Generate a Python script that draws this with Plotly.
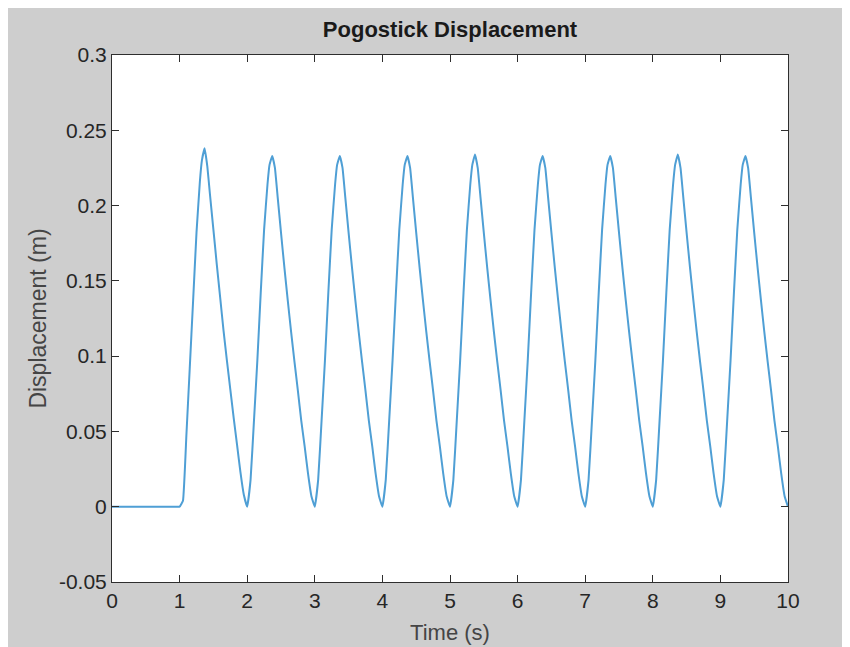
import plotly.graph_objects as go

# ---- data ----
time_flat = [0.0, 0.5, 0.9, 0.95, 1.0]
disp_flat = [0.0, 0.0, 0.0, 0.0, 0.0]

cycle_starts = [1, 2, 3, 4, 5, 6, 7, 8, 9]
cycle_offsets = [0.00, 0.05, 0.10, 0.15, 0.20, 0.25, 0.30, 0.33, 0.37, 0.41,
                 0.45, 0.50, 0.55, 0.60, 0.65, 0.70, 0.75, 0.80, 0.85, 0.90, 0.95]

disp_c1 = [0.000, 0.004, 0.047, 0.092, 0.137, 0.182, 0.216, 0.230, 0.238, 0.226,
           0.207, 0.184, 0.161, 0.139, 0.117, 0.097, 0.078, 0.059, 0.041, 0.023, 0.008]
disp_c2 = [0.000, 0.018, 0.057, 0.097, 0.142, 0.184, 0.214, 0.227, 0.233, 0.225,
           0.206, 0.182, 0.159, 0.137, 0.116, 0.096, 0.077, 0.057, 0.040, 0.022, 0.007]
disp_c3 = [0.000, 0.018, 0.057, 0.097, 0.142, 0.184, 0.214, 0.227, 0.233, 0.225,
           0.206, 0.182, 0.159, 0.137, 0.116, 0.096, 0.077, 0.057, 0.040, 0.022, 0.007]
disp_c4 = [0.000, 0.018, 0.057, 0.097, 0.142, 0.184, 0.214, 0.227, 0.233, 0.225,
           0.206, 0.182, 0.159, 0.137, 0.116, 0.096, 0.077, 0.057, 0.040, 0.022, 0.007]
disp_c5 = [0.000, 0.018, 0.057, 0.097, 0.142, 0.184, 0.214, 0.227, 0.234, 0.225,
           0.206, 0.182, 0.159, 0.137, 0.116, 0.096, 0.077, 0.057, 0.040, 0.022, 0.007]
disp_c6 = [0.000, 0.018, 0.057, 0.097, 0.142, 0.184, 0.214, 0.227, 0.233, 0.225,
           0.206, 0.182, 0.159, 0.137, 0.116, 0.096, 0.077, 0.057, 0.040, 0.022, 0.007]
disp_c7 = [0.000, 0.018, 0.057, 0.097, 0.142, 0.184, 0.214, 0.227, 0.233, 0.225,
           0.206, 0.182, 0.159, 0.137, 0.116, 0.096, 0.077, 0.057, 0.040, 0.022, 0.007]
disp_c8 = [0.000, 0.018, 0.057, 0.097, 0.142, 0.184, 0.214, 0.227, 0.234, 0.225,
           0.206, 0.182, 0.159, 0.137, 0.116, 0.096, 0.077, 0.057, 0.040, 0.022, 0.007]
disp_c9 = [0.000, 0.018, 0.057, 0.097, 0.142, 0.184, 0.214, 0.227, 0.233, 0.225,
           0.206, 0.182, 0.159, 0.137, 0.116, 0.096, 0.077, 0.057, 0.040, 0.022, 0.007]

time_end = [10.0]
disp_end = [0.0]

x_ticks = [0, 1, 2, 3, 4, 5, 6, 7, 8, 9, 10]
x_ticktext = ["0", "1", "2", "3", "4", "5", "6", "7", "8", "9", "10"]
y_ticks = [-0.05, 0, 0.05, 0.1, 0.15, 0.2, 0.25, 0.3]
y_ticktext = ["-0.05", "0", "0.05", "0.1", "0.15", "0.2", "0.25", "0.3"]

# ---- assemble series ----
cycles = [disp_c1, disp_c2, disp_c3, disp_c4, disp_c5, disp_c6, disp_c7, disp_c8, disp_c9]
t = list(time_flat)
d = list(disp_flat)
for start, vals in zip(cycle_starts, cycles):
    for off, v in zip(cycle_offsets, vals):
        tt = round(start + off, 3)
        if tt == t[-1]:
            continue
        t.append(tt)
        d.append(v)
t += time_end
d += disp_end

FONT = "Liberation Sans, Arial, sans-serif"
W, H = 842, 639  # page body adds an 8px margin, matching the white border of the reference

fig = go.Figure(go.Scatter(x=t, y=d, mode="lines",
                           line=dict(color="#4f9fd5", width=2, shape="spline", smoothing=0.3),
                           showlegend=False, hoverinfo="skip"))

axis_common = dict(
    showgrid=False, zeroline=False, showline=True, linecolor="#2e2e2e", linewidth=1,
    mirror="ticks", ticks="inside", ticklen=7, tickwidth=1, tickcolor="#2e2e2e",
    tickfont=dict(family=FONT, size=21, color="#262626"),
)

fig.update_layout(
    width=W, height=H,
    margin=dict(l=104, r=62, t=47, b=65, autoexpand=False),
    paper_bgcolor="#cecece", plot_bgcolor="white",
    title=dict(text="<b>Pogostick Displacement</b>", x=0.5, xref="paper",
               y=1 - 21 / H, yref="container", xanchor="center", yanchor="middle",
               font=dict(family=FONT, size=22, color="#1a1a1a")),
    xaxis=dict(range=[0, 10], tickvals=x_ticks, ticktext=x_ticktext,
               title=dict(text="Time (s)", standoff=13,
                          font=dict(family=FONT, size=22, color="#454545")),
               automargin=False, **axis_common),
    yaxis=dict(range=[-0.05, 0.3], tickvals=y_ticks, ticktext=y_ticktext,
               title=dict(text="Displacement (m)", standoff=5,
                          font=dict(family=FONT, size=23, color="#454545")),
               automargin=False, **axis_common),
)

fig.write_html("out.html")
